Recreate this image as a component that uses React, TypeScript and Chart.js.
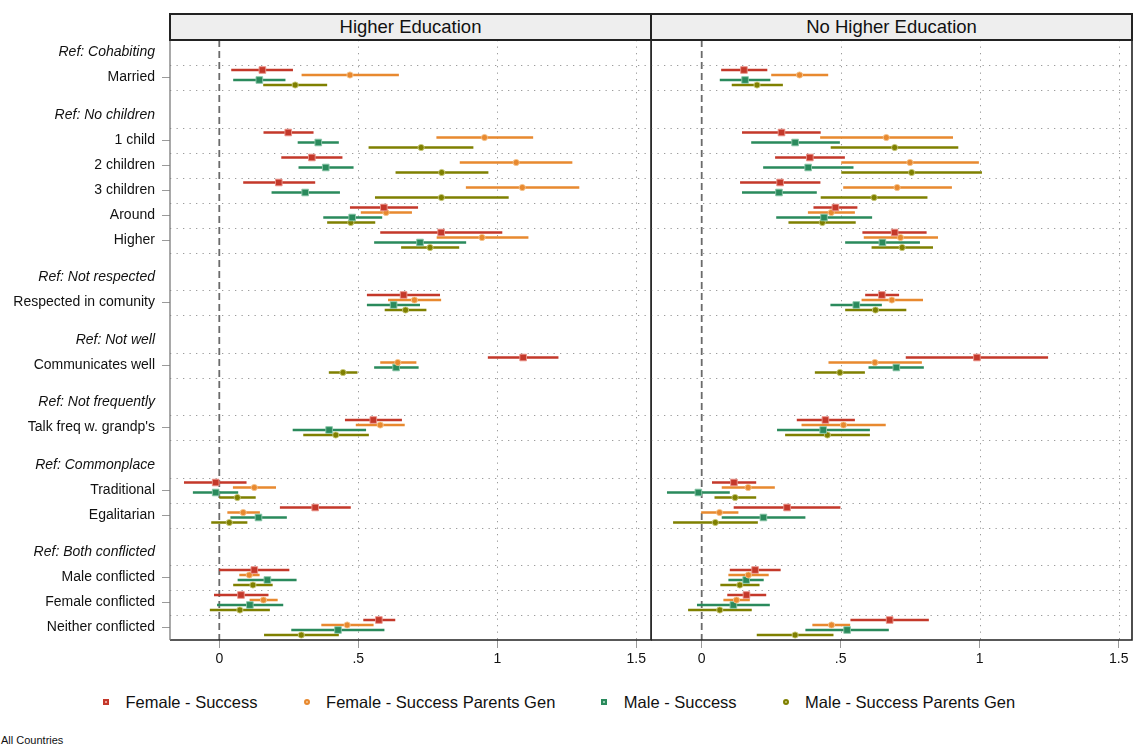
import React, { useEffect, useRef } from 'react';
import { Chart, registerables } from 'chart.js';

Chart.register(...registerables);

const FONT = '"Liberation Sans", Arial, Helvetica, sans-serif';

// ---------- labels ----------
const panelTitles = ['Higher Education', 'No Higher Education'];
const seriesNames = ['Female - Success', 'Female - Success Parents Gen', 'Male - Success', 'Male - Success Parents Gen'];
const seriesColors = ['#c4382a', '#e8892f', '#2a8a5c', '#7f8000'];
const seriesHalo = ['rgba(235,150,140,0.9)', 'rgba(245,195,140,0.9)', 'rgba(140,200,170,0.9)', 'rgba(200,200,120,0.9)'];
const seriesShapes = ['rect', 'circle', 'rect', 'circle'];
const seriesOffsets = [-0.3, -0.1, 0.1, 0.3];

const groupHeaders = [
  'Ref: Cohabiting',
  'Ref: No children',
  'Ref: Not respected',
  'Ref: Not well',
  'Ref: Not frequently',
  'Ref: Commonplace',
  'Ref: Both conflicted',
];
const groupCategories = [
  ['Married'],
  ['1 child', '2 children', '3 children', 'Around', 'Higher'],
  ['Respected in comunity'],
  ['Communicates well'],
  ["Talk freq w. grandp's"],
  ['Traditional', 'Egalitarian'],
  ['Male conflicted', 'Female conflicted', 'Neither conflicted'],
];

const xTickValues = [0, 0.5, 1, 1.5];
const xTickLabels = ['0', '.5', '1', '1.5'];

// ---------- Higher Education ----------
const heFemSuccEst = [0.155, 0.248, 0.333, 0.214, 0.592, 0.798, 0.663, 1.093, 0.554, -0.013, 0.345, 0.126, 0.078, 0.574];
const heFemSuccLo = [0.043, 0.159, 0.223, 0.086, 0.470, 0.579, 0.531, 0.966, 0.452, -0.127, 0.218, -0.001, -0.019, 0.518];
const heFemSuccHi = [0.265, 0.339, 0.443, 0.345, 0.715, 1.018, 0.794, 1.220, 0.657, 0.098, 0.473, 0.252, 0.177, 0.633];

const heFemParEst = [0.470, 0.954, 1.068, 1.090, 0.600, 0.945, 0.702, 0.642, 0.579, 0.126, 0.086, 0.108, 0.159, 0.460];
const heFemParLo = [0.296, 0.781, 0.865, 0.887, 0.509, 0.782, 0.607, 0.579, 0.491, 0.049, 0.029, 0.072, 0.109, 0.367];
const heFemParHi = [0.646, 1.129, 1.270, 1.295, 0.693, 1.112, 0.798, 0.709, 0.667, 0.204, 0.146, 0.145, 0.210, 0.555];

const heMalSuccEst = [0.144, 0.356, 0.383, 0.309, 0.478, 0.722, 0.627, 0.636, 0.395, -0.013, 0.141, 0.173, 0.110, 0.427];
const heMalSuccLo = [0.050, 0.282, 0.285, 0.188, 0.374, 0.557, 0.531, 0.557, 0.264, -0.095, 0.040, 0.066, -0.008, 0.259];
const heMalSuccHi = [0.238, 0.430, 0.483, 0.434, 0.586, 0.888, 0.722, 0.717, 0.528, 0.068, 0.243, 0.278, 0.230, 0.594];

const heMalParEst = [0.273, 0.726, 0.800, 0.799, 0.473, 0.758, 0.670, 0.445, 0.419, 0.065, 0.036, 0.121, 0.074, 0.295];
const heMalParLo = [0.158, 0.537, 0.634, 0.560, 0.388, 0.654, 0.595, 0.394, 0.302, 0.000, -0.029, 0.050, -0.034, 0.161];
const heMalParHi = [0.388, 0.914, 0.968, 1.041, 0.561, 0.863, 0.745, 0.497, 0.538, 0.131, 0.101, 0.192, 0.182, 0.430];

// ---------- No Higher Education ----------
const nhFemSuccEst = [0.152, 0.287, 0.389, 0.282, 0.481, 0.694, 0.648, 0.990, 0.445, 0.116, 0.307, 0.192, 0.161, 0.676];
const nhFemSuccLo = [0.070, 0.145, 0.264, 0.138, 0.402, 0.578, 0.588, 0.734, 0.342, 0.037, 0.115, 0.101, 0.092, 0.535];
const nhFemSuccHi = [0.236, 0.428, 0.515, 0.427, 0.560, 0.809, 0.710, 1.246, 0.551, 0.196, 0.499, 0.284, 0.232, 0.817];

const nhFemParEst = [0.352, 0.664, 0.749, 0.703, 0.466, 0.715, 0.684, 0.623, 0.510, 0.167, 0.064, 0.168, 0.125, 0.467];
const nhFemParLo = [0.250, 0.426, 0.502, 0.509, 0.382, 0.583, 0.575, 0.456, 0.359, 0.072, -0.002, 0.096, 0.078, 0.398];
const nhFemParHi = [0.455, 0.904, 0.997, 0.900, 0.551, 0.850, 0.796, 0.792, 0.662, 0.263, 0.132, 0.241, 0.173, 0.534];

const nhMalSuccEst = [0.156, 0.336, 0.383, 0.278, 0.440, 0.650, 0.556, 0.700, 0.437, -0.012, 0.222, 0.160, 0.114, 0.523];
const nhMalSuccLo = [0.065, 0.178, 0.221, 0.145, 0.268, 0.516, 0.463, 0.600, 0.271, -0.125, 0.072, 0.096, -0.017, 0.373];
const nhMalSuccHi = [0.247, 0.497, 0.546, 0.414, 0.613, 0.785, 0.648, 0.799, 0.605, 0.101, 0.373, 0.223, 0.245, 0.673];

const nhMalParEst = [0.199, 0.694, 0.755, 0.620, 0.434, 0.721, 0.625, 0.497, 0.452, 0.120, 0.049, 0.137, 0.065, 0.336];
const nhMalParLo = [0.108, 0.464, 0.502, 0.428, 0.312, 0.611, 0.516, 0.407, 0.300, 0.046, -0.103, 0.067, -0.049, 0.198];
const nhMalParHi = [0.292, 0.923, 1.008, 0.812, 0.554, 0.832, 0.736, 0.587, 0.605, 0.196, 0.202, 0.208, 0.180, 0.474];

const panelSeries = [
  [
    [heFemSuccEst, heFemSuccLo, heFemSuccHi],
    [heFemParEst, heFemParLo, heFemParHi],
    [heMalSuccEst, heMalSuccLo, heMalSuccHi],
    [heMalParEst, heMalParLo, heMalParHi],
  ],
  [
    [nhFemSuccEst, nhFemSuccLo, nhFemSuccHi],
    [nhFemParEst, nhFemParLo, nhFemParHi],
    [nhMalSuccEst, nhMalSuccLo, nhMalSuccHi],
    [nhMalParEst, nhMalParLo, nhMalParHi],
  ],
];

const panelXMin = [-0.1773, -0.1824];
const panelXMax = [1.5529, 1.5478];

function buildRows() {
  const labels: string[] = [];
  const pos: number[] = [];
  const isHeader: boolean[] = [];
  const catPos: number[] = [];
  let p = 0;
  groupHeaders.forEach((h, g) => {
    labels.push(h);
    pos.push(p);
    isHeader.push(true);
    p += 1;
    groupCategories[g].forEach((c) => {
      labels.push(c);
      pos.push(p);
      isHeader.push(false);
      catPos.push(p);
      p += 1;
    });
    p += 0.5;
  });
  return { labels, pos, isHeader, catPos };
}

const rows = buildRows();

function makeDatasets(panel: number) {
  const ds: any[] = [];
  panelSeries[panel].forEach((s, i) => {
    const [est, lo, hi] = s;
    const off = seriesOffsets[i];
    const ci: any[] = [];
    lo.forEach((l, k) => {
      const y = rows.catPos[k] + off;
      ci.push({ x: l, y }, { x: hi[k], y }, { x: hi[k], y: null });
    });
    ds.push({
      type: 'line',
      label: seriesNames[i] + ' CI',
      data: ci,
      borderColor: seriesColors[i],
      borderWidth: 2.3,
      pointRadius: 0,
      spanGaps: false,
      fill: false,
      order: 2,
    });
    ds.push({
      type: 'scatter',
      label: seriesNames[i],
      data: est.map((v, k) => ({ x: v, y: rows.catPos[k] + off })),
      pointStyle: seriesShapes[i],
      pointRadius: seriesShapes[i] === 'rect' ? 4.7 : 3.1,
      backgroundColor: seriesColors[i],
      borderColor: seriesHalo[i],
      borderWidth: 1,
      order: 1,
    });
  });
  return ds;
}

function decorPlugin(panel: number) {
  return {
    id: 'decor' + panel,
    beforeDatasetsDraw(chart: any) {
      const { ctx, chartArea: a, scales } = chart;
      const x = scales.x;
      const y = scales.y;
      ctx.save();
      ctx.beginPath();
      ctx.rect(a.left, a.top, a.right - a.left, a.bottom - a.top);
      ctx.clip();
      ctx.strokeStyle = '#9c9c9c';
      ctx.lineWidth = 1;
      ctx.setLineDash([1.3, 5.2]);
      xTickValues.forEach((v) => {
        if (v === 0) return;
        const px = Math.round(x.getPixelForValue(v)) + 0.5;
        ctx.beginPath();
        ctx.moveTo(px, a.top);
        ctx.lineTo(px, a.bottom);
        ctx.stroke();
      });
      const ys: number[] = [];
      rows.catPos.forEach((p) => {
        [p - 0.5, p + 0.5].forEach((v) => {
          if (!ys.includes(v)) ys.push(v);
        });
      });
      ys.forEach((v) => {
        const py = Math.round(y.getPixelForValue(v)) + 0.5;
        ctx.beginPath();
        ctx.moveTo(a.left, py);
        ctx.lineTo(a.right, py);
        ctx.stroke();
      });
      ctx.strokeStyle = '#6b6b6b';
      ctx.lineWidth = 1.8;
      ctx.setLineDash([7, 4]);
      const zx = x.getPixelForValue(0);
      ctx.beginPath();
      ctx.moveTo(zx, a.top);
      ctx.lineTo(zx, a.bottom);
      ctx.stroke();
      ctx.restore();
    },
    afterDatasetsDraw(chart: any) {
      const { ctx, chartArea: a } = chart;
      ctx.save();
      ctx.setLineDash([]);
      ctx.lineWidth = 1.6;
      ctx.strokeStyle = '#222';
      ctx.beginPath();
      ctx.moveTo(a.left, a.top);
      ctx.lineTo(a.right, a.top);
      ctx.lineTo(a.right, a.bottom);
      ctx.lineTo(a.left, a.bottom);
      if (panel === 1) ctx.lineTo(a.left, a.top);
      ctx.stroke();
      if (panel === 0) {
        ctx.strokeStyle = '#7a7a7a';
        ctx.lineWidth = 1.3;
        ctx.beginPath();
        ctx.moveTo(a.left, a.top);
        ctx.lineTo(a.left, a.bottom);
        ctx.stroke();
      }
      ctx.restore();
    },
  };
}

function zeroPadding(scale: any) {
  scale.paddingLeft = 0;
  scale.paddingRight = 0;
  scale.paddingTop = 0;
  scale.paddingBottom = 0;
}

function makeConfig(panel: number): any {
  return {
    type: 'scatter',
    data: { datasets: makeDatasets(panel) },
    options: {
      responsive: false,
      maintainAspectRatio: false,
      animation: false,
      events: [],
      layout: { autoPadding: false, padding: { top: 40, bottom: 0, left: 0, right: panel === 0 ? 1 : 3 } },
      plugins: { legend: { display: false }, tooltip: { enabled: false }, title: { display: false } },
      scales: {
        x: {
          type: 'linear',
          min: panelXMin[panel],
          max: panelXMax[panel],
          afterBuildTicks: (scale: any) => {
            scale.ticks = xTickValues.map((v) => ({ value: v }));
          },
          afterFit: (scale: any) => {
            scale.height = 40;
            zeroPadding(scale);
          },
          border: { display: false },
          grid: { drawOnChartArea: false, drawTicks: true, tickLength: 8, tickColor: '#9a9a9a', tickWidth: 1 },
          ticks: {
            autoSkip: false,
            maxRotation: 0,
            padding: 3,
            color: '#111',
            font: { family: FONT, size: 14 },
            callback: (v: any) => {
              const i = xTickValues.indexOf(Number(v));
              return i >= 0 ? xTickLabels[i] : '';
            },
          },
        },
        y: {
          type: 'linear',
          reverse: true,
          min: -0.5,
          max: 23.5,
          display: panel === 0,
          afterBuildTicks: (scale: any) => {
            scale.ticks = rows.pos.map((v) => ({ value: v }));
          },
          afterFit: (scale: any) => {
            scale.width = panel === 0 ? 170 : 0;
            zeroPadding(scale);
          },
          border: { display: false },
          grid: {
            drawOnChartArea: false,
            drawTicks: true,
            tickLength: 8,
            tickWidth: 1,
            tickColor: (c: any) => (rows.isHeader[c.index] ? 'rgba(0,0,0,0)' : '#9a9a9a'),
          },
          ticks: {
            autoSkip: false,
            padding: 7,
            color: '#111',
            font: (c: any) => ({ family: FONT, size: 14, style: rows.isHeader[c.index] ? 'italic' : 'normal' }),
            callback: (_v: any, i: number) => rows.labels[i],
          },
        },
      },
    },
    plugins: [decorPlugin(panel)],
  };
}

function LegendMarker({ i }: { i: number }) {
  const round = seriesShapes[i] === 'circle';
  return (
    <span
      style={{
        display: 'inline-block',
        width: 6,
        height: 6,
        boxSizing: 'border-box',
        border: `2px solid ${seriesColors[i]}`,
        background: seriesHalo[i],
        borderRadius: round ? '50%' : 0,
        marginRight: 16.5,
      }}
    />
  );
}

export default function App() {
  const leftRef = useRef<HTMLCanvasElement | null>(null);
  const rightRef = useRef<HTMLCanvasElement | null>(null);

  useEffect(() => {
    const c1 = new Chart(leftRef.current as HTMLCanvasElement, makeConfig(0));
    const c2 = new Chart(rightRef.current as HTMLCanvasElement, makeConfig(1));
    return () => {
      c1.destroy();
      c2.destroy();
    };
  }, []);

  const headerStyle = (left: number): React.CSSProperties => ({
    position: 'absolute',
    left,
    top: 13,
    width: 483,
    height: 28,
    boxSizing: 'border-box',
    border: '2px solid #222',
    background: '#eeeeee',
    fontFamily: FONT,
    fontSize: 18.5,
    color: '#111',
    display: 'flex',
    alignItems: 'center',
    justifyContent: 'center',
  });

  return (
    <div
      style={{
        position: 'absolute',
        left: 0,
        top: 0,
        width: 1135,
        height: 747,
        background: '#ffffff',
        overflow: 'hidden',
      }}
    >
      <canvas
        ref={leftRef}
        width={652}
        height={680}
        style={{ position: 'absolute', left: 0, top: 0, width: 652, height: 680 }}
      />
      <canvas
        ref={rightRef}
        width={484}
        height={680}
        style={{ position: 'absolute', left: 651, top: 0, width: 484, height: 680 }}
      />
      <div style={headerStyle(169)}>{panelTitles[0]}</div>
      <div style={headerStyle(650)}>{panelTitles[1]}</div>
      <div
        style={{
          position: 'absolute',
          left: 103,
          top: 690,
          height: 24,
          display: 'flex',
          alignItems: 'center',
          fontFamily: FONT,
          fontSize: 16.5,
          color: '#111',
          whiteSpace: 'nowrap',
        }}
      >
        {seriesNames.map((n, i) => (
          <span key={n} style={{ display: 'flex', alignItems: 'center', marginRight: 46 }}>
            <LegendMarker i={i} />
            <span>{n}</span>
          </span>
        ))}
      </div>
      <div
        style={{
          position: 'absolute',
          left: 1,
          top: 734,
          fontFamily: FONT,
          fontSize: 11,
          color: '#111',
          whiteSpace: 'nowrap',
        }}
      >
        All Countries
      </div>
    </div>
  );
}
